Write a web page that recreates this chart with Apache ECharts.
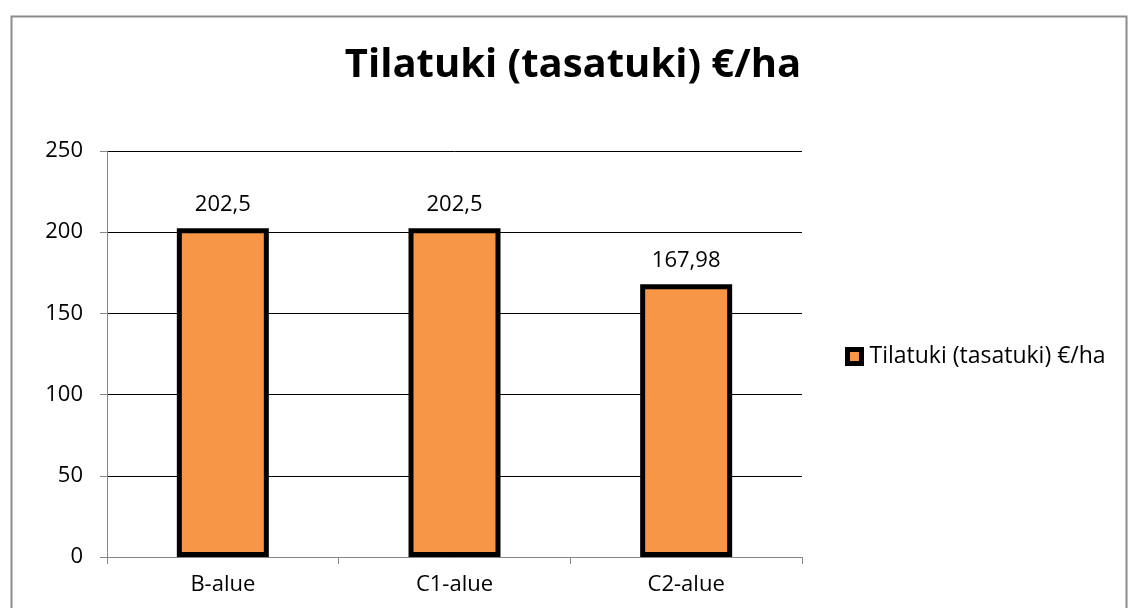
<!DOCTYPE html>
<html><head><meta charset="utf-8">
<script src="https://cdn.jsdelivr.net/npm/echarts@6/dist/echarts.min.js"></script>
<style>html,body{margin:0;padding:0;background:#fff}#c{width:1134px;height:608px}</style>
</head><body><div id="c"></div>
<script>
const categories = ['B-alue', 'C1-alue', 'C2-alue'];
const seriesName = 'Tilatuki (tasatuki) €/ha';
const values = [202.5, 202.5, 167.98];
const titleText = 'Tilatuki (tasatuki) €/ha';
const FONT = '"Open Sans", "Noto Sans", sans-serif';

const chart = echarts.init(document.getElementById('c'), null, {renderer: 'canvas'});
chart.setOption({
  animation: false,
  backgroundColor: '#fff',
  graphic: [{
    type: 'rect', left: 9, top: 14, shape: {x: 0, y: 0, width: 1115, height: 620},
    style: {fill: 'none', stroke: '#8c8c8c', lineWidth: 2}, silent: true, z: -1
  }],
  title: {
    text: titleText, left: 573, top: 46, textAlign: 'center', padding: 0,
    textStyle: {fontFamily: FONT, fontSize: 40, fontWeight: 'bold', color: '#000'}
  },
  legend: {
    data: [seriesName], left: 845, top: 345, padding: 0, itemWidth: 14, itemHeight: 14,
    icon: 'rect',
    itemStyle: {borderColor: '#000', borderWidth: 5},
    textStyle: {fontFamily: FONT, fontSize: 23, color: '#000', padding: [0,0,0,3]}
  },
  grid: {left: 107, right: 332, top: 151, bottom: 51, containLabel: false},
  xAxis: {
    type: 'category', data: categories,
    axisLine: {lineStyle: {color: '#868686', width: 1}},
    axisTick: {show: true, length: 7, lineStyle: {color: '#868686'}},
    axisLabel: {fontFamily: FONT, fontSize: 22, color: '#000', margin: 17}
  },
  yAxis: {
    type: 'value', min: 0, max: 250, interval: 50,
    axisLine: {show: true, lineStyle: {color: '#868686'}},
    axisTick: {show: true, length: 7, lineStyle: {color: '#868686'}},
    splitLine: {lineStyle: {color: '#000', width: 1}},
    axisLabel: {fontFamily: FONT, fontSize: 22, color: '#000', margin: 24}
  },
  series: [{
    name: seriesName, type: 'bar', data: values, barWidth: 92,
    itemStyle: {color: '#F79646', borderColor: '#000', borderWidth: 5},
    label: {
      show: true, position: 'top', distance: 12,
      fontFamily: FONT, fontSize: 22, color: '#000',
      formatter: p => String(p.value).replace('.', ',')
    }
  }]
});
</script></body></html>
